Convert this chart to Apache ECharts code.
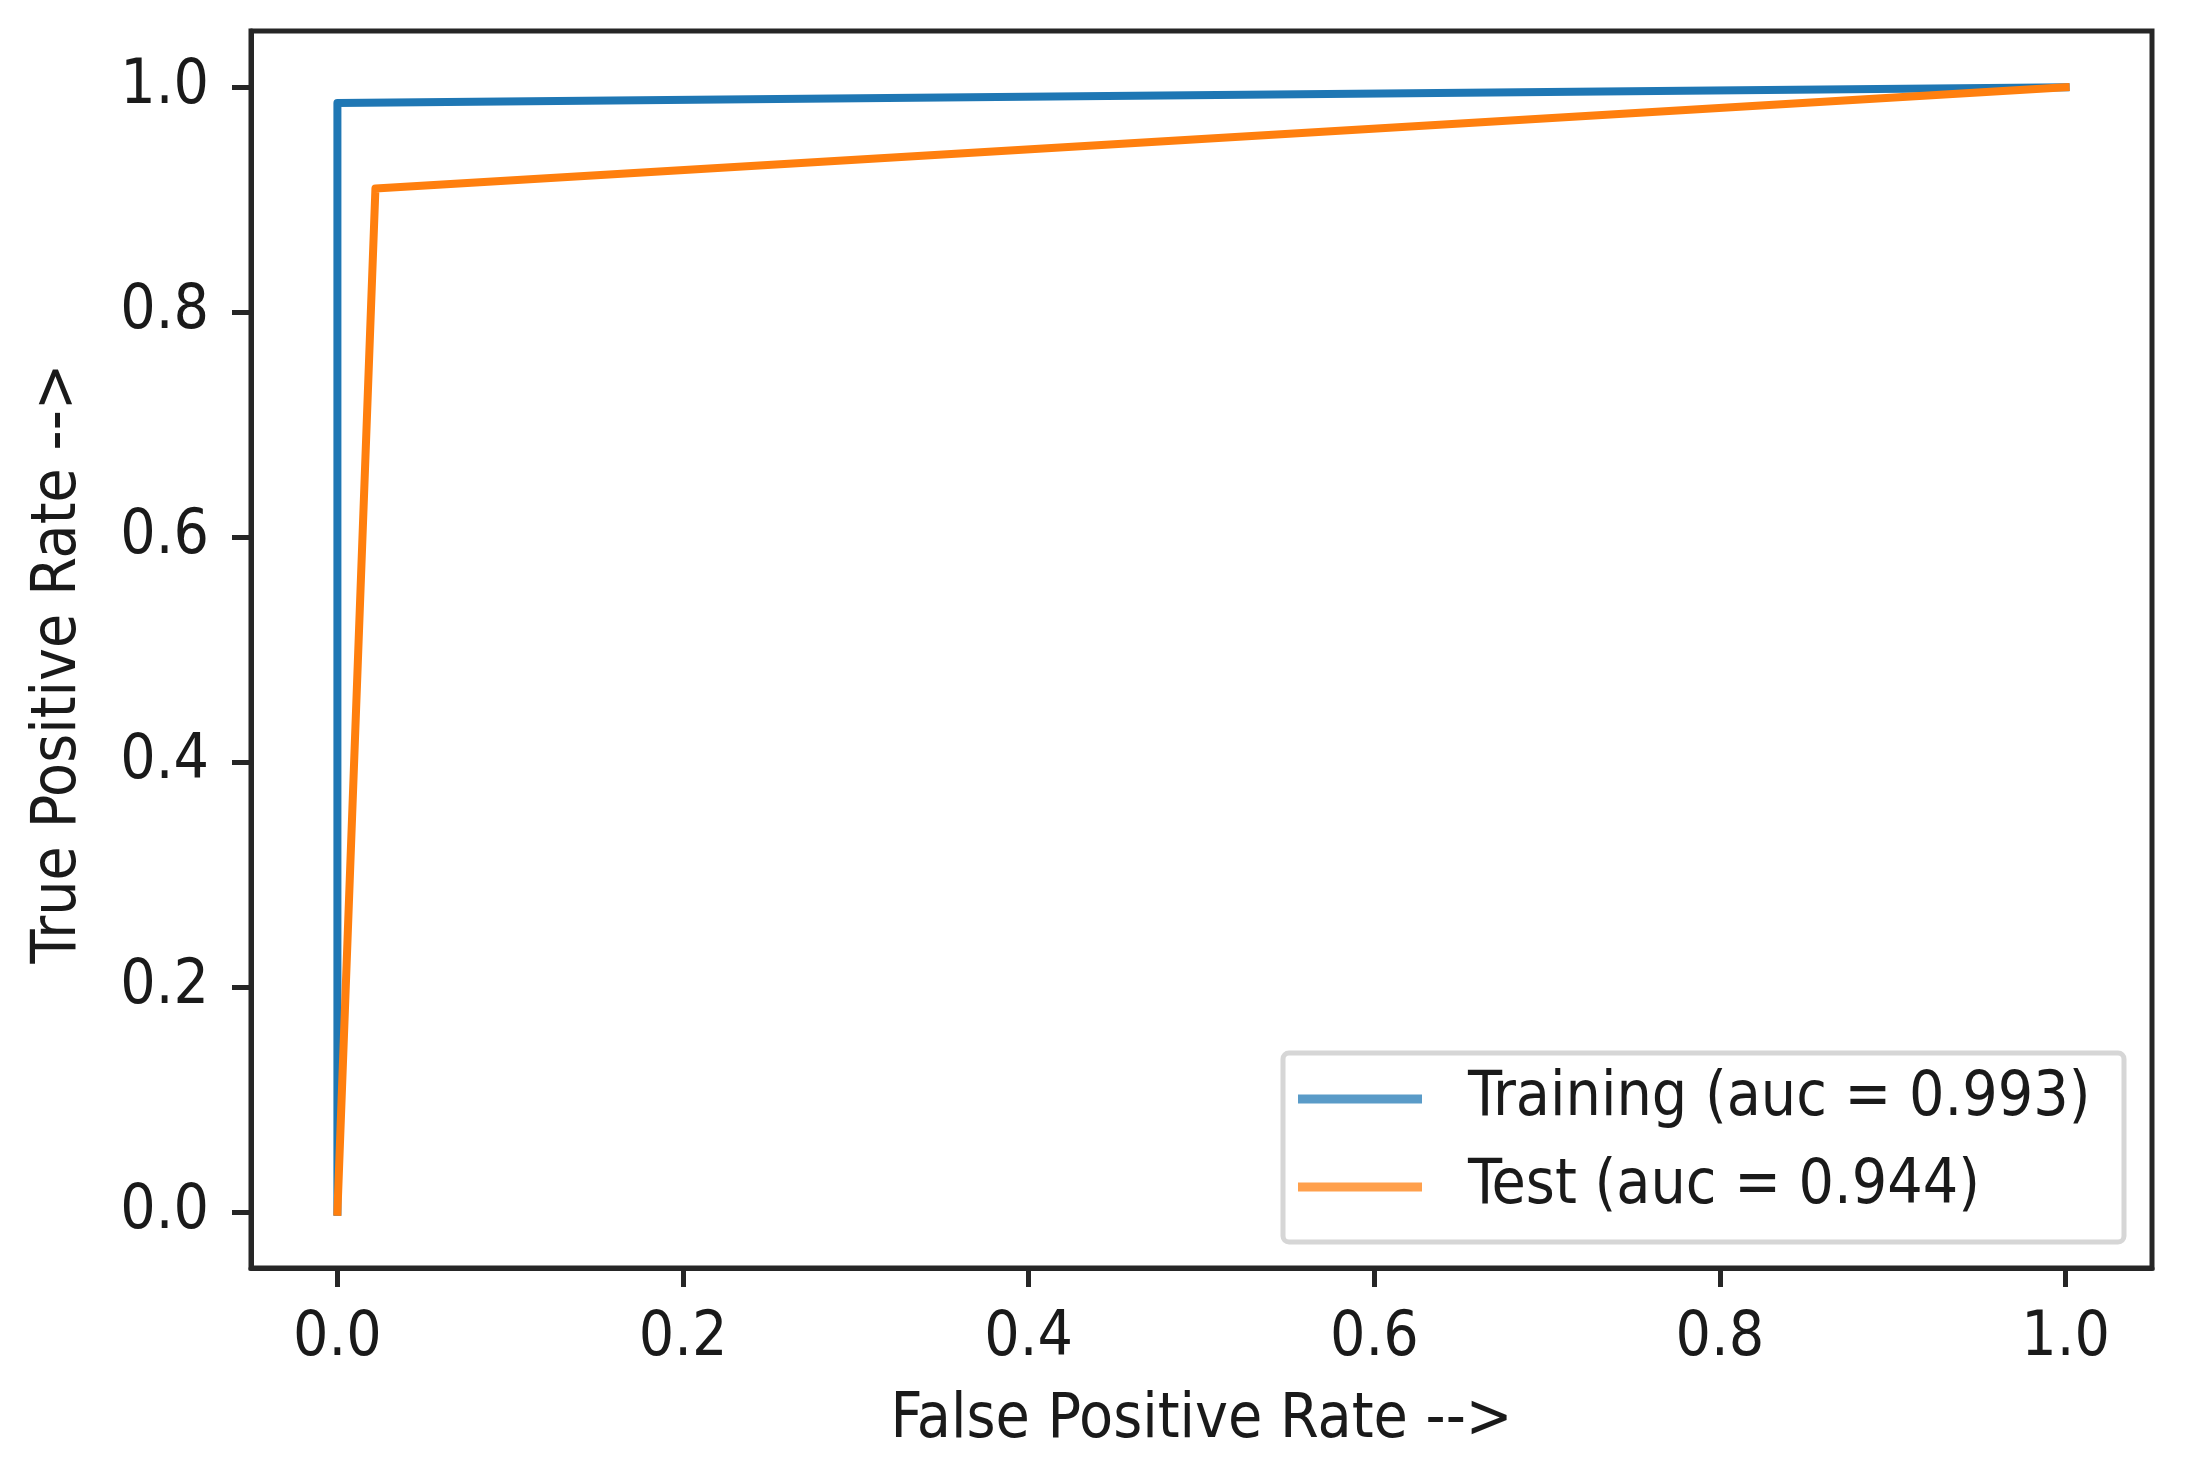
<!DOCTYPE html>
<html><head><meta charset="utf-8">
<script src="https://cdn.jsdelivr.net/npm/echarts@6/dist/echarts.min.js"></script>
<style>html,body{margin:0;padding:0;background:#fff}#c{width:2193px;height:1473px}</style>
</head><body><div id="c"></div>
<script>
const seriesNames = ['Training (auc = 0.993)', 'Test (auc = 0.944)'];
const trainFPR = [0, 0, 1];
const trainTPR = [0, 0.986, 1];
const testFPR = [0, 0.022, 1];
const testTPR = [0, 0.910, 1];
const tickValues = [0, 0.2, 0.4, 0.6, 0.8, 1.0];
const xAxisName = 'False Positive Rate -->';
const yAxisName = 'True Positive Rate -->';

const FONT = "'DejaVu Sans Condensed', 'DejaVu Sans', sans-serif";
const FS = 62;
const TXT = '#1a1a1a';
const SPINE = '#262626';

function pairs(xs, ys) { return xs.map((x, i) => [x, ys[i]]); }

function axisCommon(name) {
  return {
    type: 'value', min: -0.05, max: 1.05,
    name: name, nameLocation: 'middle',
    nameTextStyle: { fontFamily: FONT, fontSize: FS, color: TXT, lineHeight: FS },
    axisLine: { show: true, onZero: false, lineStyle: { color: SPINE, width: 5 } },
    axisTick: { show: true, inside: false, length: 19, lineStyle: { color: SPINE, width: 5 }, customValues: tickValues },
    axisLabel: { show: true, fontFamily: FONT, fontSize: FS, color: TXT, lineHeight: FS,
      customValues: tickValues, formatter: v => v.toFixed(1) },
    splitLine: { show: false }
  };
}

const chart = echarts.init(document.getElementById('c'), null, { renderer: 'canvas' });
const xA = axisCommon(xAxisName); xA.nameGap = 122; xA.axisLabel.margin = 40;
const yA = axisCommon(yAxisName); yA.nameGap = 161; yA.axisLabel.margin = 42;
yA.nameTextStyle.padding = [0, 28, 0, 0];

chart.setOption({
  backgroundColor: '#ffffff',
  animation: false,
  grid: { left: 251, right: 41, top: 31, bottom: 205, show: true, borderColor: SPINE, borderWidth: 5, containLabel: false, outerBoundsMode: 'none' },
  xAxis: xA,
  yAxis: yA,
  legend: {
    orient: 'vertical', left: 1283, top: 1053,
    padding: [15, 16, 24, 15],
    backgroundColor: '#ffffff', borderColor: '#d6d6d6', borderWidth: 5, borderRadius: 6,
    itemWidth: 124, itemHeight: 9, itemGap: 26, icon: 'rect', selectedMode: false,
    textStyle: { fontFamily: FONT, fontSize: FS, color: TXT, lineHeight: 60, width: 640, padding: [0, 0, 0, 41] },
    data: [
      { name: seriesNames[0], itemStyle: { color: '#5a9bc8' } },
      { name: seriesNames[1], itemStyle: { color: '#ffa04c' } }
    ]
  },
  series: [
    { name: seriesNames[0], type: 'line', data: pairs(trainFPR, trainTPR), symbol: 'none', color: '#1f77b4',
      lineStyle: { color: '#1f77b4', width: 8, cap: 'square', join: 'round' } },
    { name: seriesNames[1], type: 'line', data: pairs(testFPR, testTPR), symbol: 'none', color: '#ff7f0e',
      lineStyle: { color: '#ff7f0e', width: 8, cap: 'square', join: 'round' } }
  ]
});
</script></body></html>
